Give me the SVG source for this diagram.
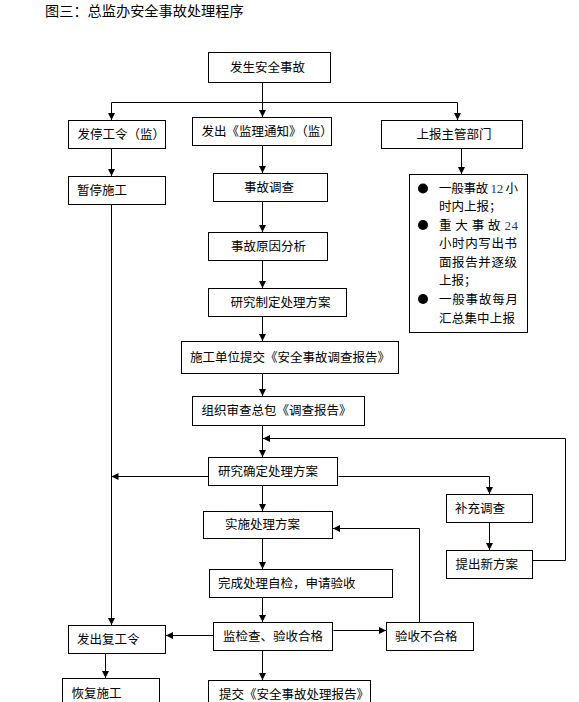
<svg xmlns="http://www.w3.org/2000/svg" width="579" height="702" viewBox="0 0 579 702">
<style>
.b{fill:#fff;stroke:#000;stroke-width:1}
.t{font-family:"Noto Sans CJK SC","Noto Sans CJK JP",sans-serif;font-size:12.5px;fill:#000}
.n{font-family:"Liberation Serif",serif;font-size:13px}
.c{fill:none;stroke:#000;stroke-width:1}
</style>
<defs>
<marker id="a" markerUnits="userSpaceOnUse" markerWidth="8" markerHeight="8" refX="7" refY="3.5" orient="auto"><path d="M0,0 L7,3.5 L0,7 z" fill="#000"/></marker>
</defs>
<rect width="579" height="702" fill="#fff"/>
<text x="45" y="16" font-family="Noto Sans CJK SC, sans-serif" font-size="14.2px">图三：总监办安全事故处理程序</text>

<g id="connectors" class="c">
<path d="M262.5,82.5 V117" marker-end="url(#a)"/>
<path d="M111.5,102.5 H457.5"/>
<path d="M111.5,102.5 V120" marker-end="url(#a)"/>
<path d="M457.5,102.5 V120" marker-end="url(#a)"/>
<path d="M111.5,148.5 V176" marker-end="url(#a)"/>
<path d="M262.5,145.5 V173" marker-end="url(#a)"/>
<path d="M461.5,148.5 V174" marker-end="url(#a)"/>
<path d="M262.5,201.5 V232" marker-end="url(#a)"/>
<path d="M262.5,260.5 V288" marker-end="url(#a)"/>
<path d="M262.5,316.5 V341" marker-end="url(#a)"/>
<path d="M262.5,373.5 V396" marker-end="url(#a)"/>
<path d="M262.5,425.5 V457" marker-end="url(#a)"/>
<path d="M111.5,204.5 V625" marker-end="url(#a)"/>
<path d="M208.5,476.5 H111.5" marker-end="url(#a)"/>
<path d="M338.5,476.5 H489.5 V494" marker-end="url(#a)"/>
<path d="M489.5,522.5 V550" marker-end="url(#a)"/>
<path d="M532.5,560.5 H565.5 V438.5 H263" marker-end="url(#a)"/>
<path d="M262.5,485.5 V511" marker-end="url(#a)"/>
<path d="M262.5,538.5 V569" marker-end="url(#a)"/>
<path d="M262.5,597.5 V622" marker-end="url(#a)"/>
<path d="M333.5,630.5 H386" marker-end="url(#a)"/>
<path d="M213.5,635.5 H166" marker-end="url(#a)"/>
<path d="M419.5,622.5 V528.5 H333" marker-end="url(#a)"/>
<path d="M262.5,650.5 V680" marker-end="url(#a)"/>
<path d="M105.5,653.5 V678" marker-end="url(#a)"/>
</g>

<g id="n1"><rect class="b" x="208.5" y="52.5" width="122" height="30"/><text class="t" x="230" y="72">发生安全事故</text></g>
<g id="n2"><rect class="b" x="68.5" y="120.5" width="97" height="28"/><text class="t" x="77.5" y="139">发停工令（监）</text></g>
<g id="n3"><rect class="b" x="192.5" y="117.5" width="139" height="28"/><text class="t" x="201.5" y="136">发出《监理通知》（监）</text></g>
<g id="n4"><rect class="b" x="381.5" y="120.5" width="141" height="28"/><text class="t" x="416.5" y="139">上报主管部门</text></g>
<g id="n5"><rect class="b" x="409.5" y="174.5" width="118" height="158"/>
<circle cx="423" cy="188.5" r="5"/><circle cx="423" cy="225" r="5"/><circle cx="423" cy="299" r="5"/>
<text class="t" x="439" y="193" textLength="79" lengthAdjust="spacing">一般事故 <tspan class="n" fill="#2a3a70">12</tspan> 小</text>
<text class="t" x="439" y="211">时内上报；</text>
<text class="t" x="439" y="230" textLength="79" lengthAdjust="spacing">重 大 事 故 <tspan class="n" fill="#2a3a70">24</tspan></text>
<text class="t" x="439" y="248" textLength="78" lengthAdjust="spacing">小时内写出书</text>
<text class="t" x="439" y="266.5" textLength="78" lengthAdjust="spacing">面报告并逐级</text>
<text class="t" x="439" y="285">上报；</text>
<text class="t" x="439" y="303.5" textLength="79" lengthAdjust="spacing">一般事故每月</text>
<text class="t" x="439" y="322.5" textLength="76" lengthAdjust="spacing">汇总集中上报</text>
</g>
<g id="n6"><rect class="b" x="68.5" y="176.5" width="97" height="28"/><text class="t" x="77" y="195">暂停施工</text></g>
<g id="n7"><rect class="b" x="213.5" y="173.5" width="114" height="28"/><text class="t" x="244" y="192">事故调查</text></g>
<g id="n8"><rect class="b" x="208.5" y="232.5" width="119" height="28"/><text class="t" x="231" y="251">事故原因分析</text></g>
<g id="n9"><rect class="b" x="208.5" y="288.5" width="138" height="28"/><text class="t" x="230.5" y="307">研究制定处理方案</text></g>
<g id="n10"><rect class="b" x="181.5" y="341.5" width="217" height="32"/><text class="t" x="190" y="362">施工单位提交《安全事故调查报告》</text></g>
<g id="n11"><rect class="b" x="192.5" y="396.5" width="172" height="29"/><text class="t" x="201.5" y="415">组织审查总包《调查报告》</text></g>
<g id="n12"><rect class="b" x="208.5" y="457.5" width="129" height="28"/><text class="t" x="218" y="476">研究确定处理方案</text></g>
<g id="n13"><rect class="b" x="446.5" y="494.5" width="86" height="28"/><text class="t" x="455" y="513">补充调查</text></g>
<g id="n14"><rect class="b" x="446.5" y="550.5" width="86" height="28"/><text class="t" x="455.5" y="569">提出新方案</text></g>
<g id="n15"><rect class="b" x="203.5" y="511.5" width="129" height="27"/><text class="t" x="225" y="529">实施处理方案</text></g>
<g id="n16"><rect class="b" x="209.5" y="569.5" width="183" height="28"/><text class="t" x="218" y="588">完成处理自检，申请验收</text></g>
<g id="n17"><rect class="b" x="213.5" y="622.5" width="119" height="28"/><text class="t" x="223" y="641">监检查、验收合格</text></g>
<g id="n18"><rect class="b" x="386.5" y="622.5" width="87" height="28"/><text class="t" x="395" y="641">验收不合格</text></g>
<g id="n19"><rect class="b" x="68.5" y="625.5" width="97" height="28"/><text class="t" x="77" y="644">发出复工令</text></g>
<g id="n20"><rect class="b" x="62.5" y="678.5" width="97" height="30"/><text class="t" x="71.5" y="697.5">恢复施工</text></g>
<g id="n21"><rect class="b" x="208.5" y="680.5" width="162" height="30"/><text class="t" x="219" y="699">提交《安全事故处理报告》</text></g>
</svg>
